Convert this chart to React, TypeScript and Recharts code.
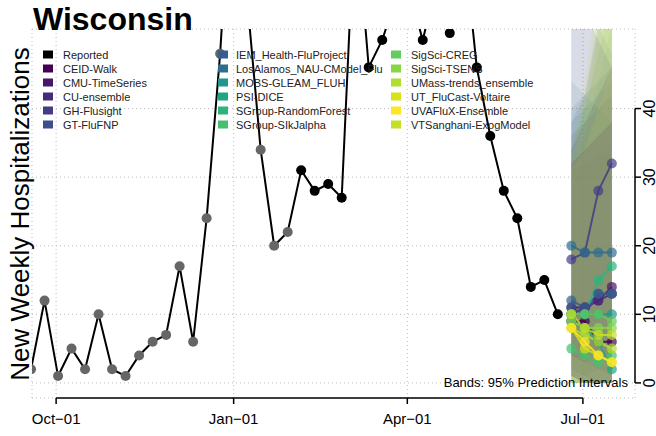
import { ComposedChart, Line, Area, XAxis, YAxis, CartesianGrid, ReferenceLine } from "recharts";

const FONT = "'Liberation Sans', Arial, sans-serif";

// weekly reported hospitalizations, Wisconsin
const reportedDates = [
  "2021-09-18", "2021-09-25", "2021-10-02", "2021-10-09", "2021-10-16", "2021-10-23", "2021-10-30",
  "2021-11-06", "2021-11-13", "2021-11-20", "2021-11-27", "2021-12-04", "2021-12-11", "2021-12-18",
  "2021-12-25", "2022-01-01", "2022-01-08", "2022-01-15", "2022-01-22", "2022-01-29", "2022-02-05",
  "2022-02-12", "2022-02-19", "2022-02-26", "2022-03-05", "2022-03-12", "2022-03-19", "2022-03-26",
  "2022-04-02", "2022-04-09", "2022-04-16", "2022-04-23", "2022-04-30", "2022-05-07", "2022-05-14",
  "2022-05-21", "2022-05-28", "2022-06-04", "2022-06-11", "2022-06-18",
];
const reportedValues = [
  2, 12, 1, 5, 2, 10, 2, 1, 4, 6, 7, 17, 6, 24, 48, 80, 56, 34, 20, 22,
  31, 28, 29, 27, 70, 46, 50, 56, 57, 50, 58, 51, 65, 46, 36, 28, 24, 14, 15, 10,
];
// points before this date are drawn grey
const greyBefore = "2022-02-05";

const forecastDates = ["2022-06-25", "2022-07-02", "2022-07-09", "2022-07-16"];

const models = [
  "CEID-Walk", "CMU-TimeSeries", "CU-ensemble", "GH-Flusight", "GT-FluFNP",
  "IEM_Health-FluProject", "LosAlamos_NAU-CModel_Flu", "MOBS-GLEAM_FLUH", "PSI-DICE",
  "SGroup-RandomForest", "SGroup-SIkJalpha", "SigSci-CREG", "SigSci-TSENS",
  "UMass-trends_ensemble", "UT_FluCast-Voltaire", "UVAFluX-Ensemble", "VTSanghani-ExogModel",
];
const modelColors = [
  "#440154", "#481769", "#472A7A", "#433D84", "#3D4E8A", "#355E8D", "#2E6D8E", "#1F978B",
  "#21A585", "#2EB37C", "#46C06F", "#65CB5E", "#89D548", "#B0DD2F", "#D8E219", "#FDE725", "#C4DF25",
];
const pointForecast = [
  [9, 9, 6, 6],
  [11, 11, 12, 14],
  [10, 11, 12, 13],
  [18, 19, 28, 32],
  [11, 10, 13, 13],
  [12, 11, 13, 13],
  [20, 19, 19, 19],
  [10, 10, 10, 10],
  [9, 8, 6, 2],
  [10, 10, 15, 17],
  [5, 4, 3, 4],
  [10, 10, 10, 9],
  [9, 8, 8, 8],
  [8, 7, 6, 5],
  [8, 5, 4, 3],
  [8, 6, 4, 3],
  [10, 8, 7, 7],
];
const lower95 = [
  [0, 0, 0, 0], [1, 0, 0, 0], [1, 0, 0, 0], [4, 3, 4, 4], [1, 0, 0, 0], [2, 1, 0, 0],
  [4, 3, 2, 1], [1, 0, 0, 0], [0, 0, 0, 0], [1, 1, 2, 2], [0, 0, 0, 0], [0, 0, 0, 0],
  [0, 0, 0, 0], [0, 0, 0, 0], [0, 0, 0, 0], [0, 0, 0, 0], [0, 0, 0, 0],
];
const upper95 = [
  [32, 34, 36, 38], [34, 38, 42, 46], [56, 54, 50, 46], [38, 42, 52, 60], [36, 38, 40, 42],
  [40, 42, 44, 46], [60, 56, 52, 48], [44, 42, 40, 38], [38, 40, 42, 44], [34, 40, 48, 56],
  [31, 32, 33, 34], [32, 36, 44, 52], [34, 42, 54, 66], [32, 40, 52, 64], [31, 38, 50, 62],
  [31, 34, 40, 46], [33, 44, 58, 72],
];
// drawing order of the bands
const bandOrder = [8, 9, 7, 10, 6, 11, 5, 12, 4, 13, 3, 14, 2, 15, 1, 16, 0];

const xTickDates = ["2021-10-01", "2022-01-01", "2022-04-01", "2022-07-01"];
const xTickLabels = ["Oct−01", "Jan−01", "Apr−01", "Jul−01"];
const yTicks = [0, 10, 20, 30, 40];

const toDay = (s: string) => (Date.parse(s) - Date.parse("2021-10-01")) / 86400000;

const rows: any[] = [
  ...reportedDates.map((d, i) => ({ day: toDay(d), reported: reportedValues[i] })),
  ...forecastDates.map((d, h) => {
    const r: any = { day: toDay(d) };
    models.forEach((_, m) => {
      r[`m${m}`] = pointForecast[m][h];
      r[`b${m}`] = [lower95[m][h], upper95[m][h]];
    });
    return r;
  }),
];

const xTicks = xTickDates.map(toDay);
const X_DOMAIN = [-12.5, 300];
const Y_DOMAIN = [-2.2, 51.6];

const XTick = (p: any) => {
  const i = xTicks.indexOf(p.payload.value);
  return (
    <text x={p.x} y={p.y + 18} textAnchor="middle" fontSize={15} fontFamily={FONT} fill="#000">
      {xTickLabels[i]}
    </text>
  );
};

const YTick = (p: any) => (
  <text
    x={p.x + 12}
    y={p.y}
    transform={`rotate(-90, ${p.x + 12}, ${p.y})`}
    textAnchor="middle"
    fontSize={16}
    fontFamily={FONT}
    fill="#000"
  >
    {p.payload.value}
  </text>
);

const ReportedDot = (p: any) => {
  if (p.cx == null || p.cy == null || p.payload.reported == null) return <g key={p.key} />;
  const grey = p.payload.day < toDay(greyBefore);
  return <circle key={p.key} cx={p.cx} cy={p.cy} r={5} fill={grey ? "#666" : "#000"} />;
};

const legendNames = ["Reported", ...models];
const legendColors = ["#000", ...modelColors];
const legendSwatchX = [43, 218, 391];
const legendTextX = [63, 236, 411];

export default function App() {
  return (
    <div style={{ position: "absolute", left: 0, top: 0, width: 656, height: 436, background: "#fff" }}>
      <ComposedChart width={656} height={436} data={rows} margin={{ top: 29, right: 0, bottom: 0, left: 32 }}>
        <CartesianGrid stroke="#bbb" strokeDasharray="1 3" />
        <XAxis
          dataKey="day"
          type="number"
          domain={X_DOMAIN}
          allowDataOverflow
          ticks={xTicks}
          height={38}
          axisLine={false}
          tickSize={6}
          tickLine={{ stroke: "#000", strokeWidth: 1.5 }}
          tick={<XTick />}
        />
        <YAxis
          orientation="right"
          type="number"
          domain={Y_DOMAIN}
          allowDataOverflow
          ticks={yTicks}
          width={21}
          axisLine={false}
          tickSize={6}
          tickLine={{ stroke: "#000", strokeWidth: 1.5 }}
          tick={<YTick />}
        />
        {bandOrder.map((i) => (
          <Area
            key={"band" + models[i]}
            dataKey={`b${i}`}
            type="linear"
            stroke="none"
            fill={modelColors[i]}
            fillOpacity={0.1}
            isAnimationActive={false}
          />
        ))}
        <Line dataKey="reported" stroke="none" dot={<ReportedDot />} isAnimationActive={false} />
        <Line dataKey="reported" stroke="#000" strokeWidth={2} dot={false} isAnimationActive={false} />
        {models.map((m, i) => (
          <Line
            key={m}
            dataKey={`m${i}`}
            stroke={modelColors[i]}
            strokeWidth={2}
            strokeOpacity={0.85}
            dot={{ r: 5, fill: modelColors[i], fillOpacity: 0.7, stroke: "none" }}
            isAnimationActive={false}
          />
        ))}
        <ReferenceLine
          segment={[{ x: xTicks[0], y: Y_DOMAIN[0] }, { x: xTicks[3], y: Y_DOMAIN[0] }]}
          stroke="#000"
          strokeWidth={1.5}
          ifOverflow="visible"
        />
        <ReferenceLine
          segment={[{ x: X_DOMAIN[1], y: yTicks[0] }, { x: X_DOMAIN[1], y: yTicks[4] }]}
          stroke="#000"
          strokeWidth={1.5}
          ifOverflow="visible"
        />
      </ComposedChart>
      <svg width={656} height={436} style={{ position: "absolute", left: 0, top: 0, pointerEvents: "none" }}>
        <text x={33} y={30} fontSize={32} fontWeight="bold" fontFamily={FONT} fill="#000">
          Wisconsin
        </text>
        <text
          x={29}
          y={214}
          transform="rotate(-90, 29, 214)"
          textAnchor="middle"
          fontSize={26}
          fontFamily={FONT}
          fill="#000"
        >
          New Weekly Hospitalizations
        </text>
        <text x={628} y={387} textAnchor="end" fontSize={13} fontFamily={FONT} fill="#000">
          Bands: 95% Prediction Intervals
        </text>
        {legendNames.map((name, i) => {
          const col = Math.floor(i / 6);
          const row = i % 6;
          const cy = 54.5 + row * 14;
          return (
            <g key={name}>
              <rect x={legendSwatchX[col]} y={cy - 4} width={10} height={8} fill={legendColors[i]} />
              <text x={legendTextX[col]} y={cy + 4} fontSize={11} fontFamily={FONT} fill="#222">
                {name}
              </text>
            </g>
          );
        })}
      </svg>
    </div>
  );
}
